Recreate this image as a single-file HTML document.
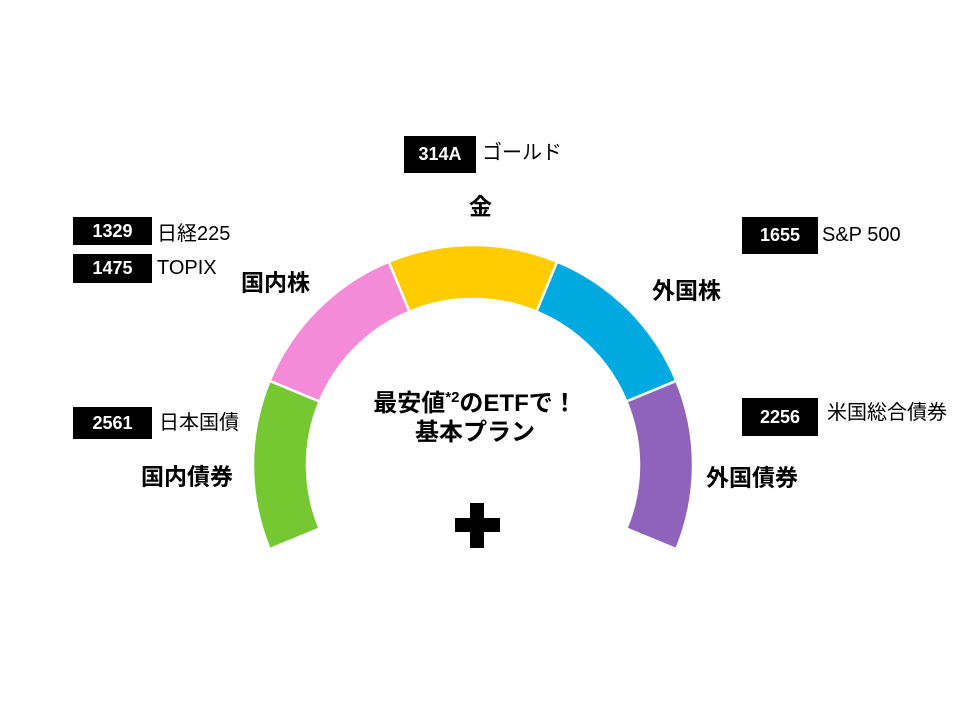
<!DOCTYPE html>
<html><head><meta charset="utf-8"><style>
html,body{margin:0;padding:0;background:#fff;}
#c{position:relative;width:960px;height:720px;overflow:hidden;font-family:"Liberation Sans","Noto Sans CJK JP",sans-serif;color:#000;}
.b{position:absolute;background:#000;color:#fff;font-weight:bold;font-size:18px;display:flex;align-items:center;justify-content:center;}
.t{position:absolute;font-size:20px;line-height:1;white-space:nowrap;transform:translateY(-50%);}
.h{position:absolute;font-size:23px;font-weight:bold;line-height:1;white-space:nowrap;transform:translateY(-50%);}
</style></head><body><div id="c">
<svg width="960" height="720" style="position:absolute;left:0;top:0">
<g stroke="#fff" stroke-width="2.5">
<path d="M269.7 549.2 A220 220 0 0 1 269.7 380.8 L319.6 401.5 A166 166 0 0 0 319.6 528.5 Z" fill="#75c832"/>
<path d="M269.7 380.8 A220 220 0 0 1 388.8 261.7 L409.5 311.6 A166 166 0 0 0 319.6 401.5 Z" fill="#f48bd8"/>
<path d="M388.8 261.7 A220 220 0 0 1 557.2 261.7 L536.5 311.6 A166 166 0 0 0 409.5 311.6 Z" fill="#ffcc00"/>
<path d="M557.2 261.7 A220 220 0 0 1 676.3 380.8 L626.4 401.5 A166 166 0 0 0 536.5 311.6 Z" fill="#00a9e0"/>
<path d="M676.3 380.8 A220 220 0 0 1 676.3 549.2 L626.4 528.5 A166 166 0 0 0 626.4 401.5 Z" fill="#8f63bb"/>
</g>
<rect x="470" y="503" width="14" height="45" fill="#000"/>
<rect x="455" y="518" width="45" height="14" fill="#000"/>
</svg>
<div class="b" style="left:404px;top:136px;width:72px;height:37px">314A</div>
<div class="t" style="left:482px;top:153px">ゴールド</div>
<div class="h" style="left:469px;top:207px">金</div>
<div class="b" style="left:73px;top:217px;width:79px;height:28px">1329</div>
<div class="t" style="left:157px;top:234px">日経225</div>
<div class="b" style="left:73px;top:254px;width:79px;height:29px">1475</div>
<div class="t" style="left:157px;top:268px">TOPIX</div>
<div class="h" style="left:241px;top:283px">国内株</div>
<div class="b" style="left:742px;top:217px;width:76px;height:37px">1655</div>
<div class="t" style="left:822px;top:235px">S&amp;P 500</div>
<div class="h" style="left:652px;top:291px">外国株</div>
<div class="b" style="left:73px;top:407px;width:79px;height:32px">2561</div>
<div class="t" style="left:159px;top:423px">日本国債</div>
<div class="h" style="left:141px;top:477px">国内債券</div>
<div class="b" style="left:742px;top:398px;width:76px;height:38px">2256</div>
<div class="t" style="left:827px;top:413px">米国総合債券</div>
<div class="h" style="left:706px;top:478px">外国債券</div>
<div style="position:absolute;left:320px;width:310px;top:389px;text-align:center;font-weight:bold;font-size:24px;line-height:29px">最安値<sup style="font-size:15px;line-height:0">*2</sup>のETFで！<br>基本プラン</div>
</div></body></html>
